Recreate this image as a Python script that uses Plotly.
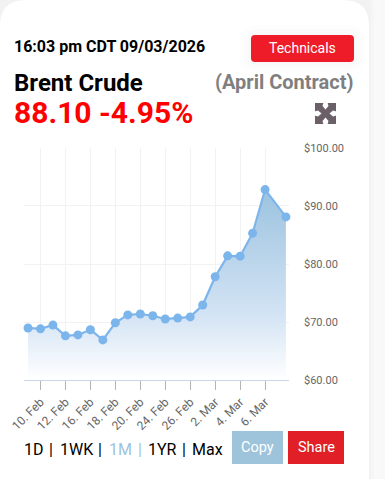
import plotly.graph_objects as go

W, H = 385, 479
PLOT_L, PLOT_R, PLOT_T, PLOT_B = 24, 289, 147.7, 380.3

dates = ["2026-02-09","2026-02-10","2026-02-11","2026-02-12","2026-02-13",
         "2026-02-16","2026-02-17","2026-02-18","2026-02-19","2026-02-20",
         "2026-02-23","2026-02-24","2026-02-25","2026-02-26","2026-02-27",
         "2026-03-02","2026-03-03","2026-03-04","2026-03-05","2026-03-06",
         "2026-03-09 16:03"]
prices = [69.0,68.85,69.5,67.65,67.8,68.7,66.95,69.9,71.25,71.4,71.1,70.55,70.7,70.9,
          72.95,77.8,81.4,81.35,85.3,92.8,88.1]
tick_dates = ["2026-02-10","2026-02-12","2026-02-16","2026-02-18","2026-02-20",
              "2026-02-24","2026-02-26","2026-03-02","2026-03-04","2026-03-06"]
tick_labels = ["10. Feb","12. Feb","16. Feb","18. Feb","20. Feb",
               "24. Feb","26. Feb","2. Mar","4. Mar","6. Mar"]
y_ticks = [60,70,80,90,100]
y_labels = ["$60.00","$70.00","$80.00","$90.00","$100.00"]
x_start, x_stop = "2026-02-08 16:19", "2026-03-09 22:00"

FONT = "Roboto"

def px(x): return x / W
def py(y): return 1 - y / H

fig = go.Figure()
fig.add_trace(go.Scatter(
    x=dates, y=prices, mode="lines+markers", fill="tozeroy",
    line=dict(color="#7cb5ec", width=2.2),
    marker=dict(color="#7cb5ec", size=9),
    fillgradient=dict(type="vertical", start=60, stop=92.8,
                      colorscale=[[0,"rgba(255,255,255,1)"],[0.35,"#d2e3f4"],[1,"#9cc3df"]]),
    hoverinfo="skip", cliponaxis=False,
))

shapes, annotations = [], []

def rrect(x0, y0, x1, y1, r):
    X = lambda v: f"{px(v):.5f}"
    Y = lambda v: f"{py(v):.5f}"
    return (f"M {X(x0+r)} {Y(y0)} L {X(x1-r)} {Y(y0)} Q {X(x1)} {Y(y0)} {X(x1)} {Y(y0+r)} "
            f"L {X(x1)} {Y(y1-r)} Q {X(x1)} {Y(y1)} {X(x1-r)} {Y(y1)} "
            f"L {X(x0+r)} {Y(y1)} Q {X(x0)} {Y(y1)} {X(x0)} {Y(y1-r)} "
            f"L {X(x0)} {Y(y0+r)} Q {X(x0)} {Y(y0)} {X(x0+r)} {Y(y0)} Z")

def box(x0, y0, x1, y1, r, color, layer="below"):
    shapes.append(dict(type="path", path=rrect(x0, y0, x1, y1, r), xref="paper", yref="paper",
                       fillcolor=color, line=dict(width=0), layer=layer))

def poly(pts, color):
    p = "M " + " L ".join(f"{px(a):.5f} {py(b):.5f}" for a, b in pts) + " Z"
    shapes.append(dict(type="path", path=p, xref="paper", yref="paper",
                       fillcolor=color, line=dict(width=0), layer="below"))

def text(x, y, s, size, color, anchor="left", weight=400):
    annotations.append(dict(x=px(x), y=py(y), xref="paper", yref="paper", text=s, showarrow=False,
                            xanchor=anchor, yanchor="middle", borderpad=0, borderwidth=0,
                            font=dict(family=FONT, size=size, color=color, weight=weight)))

# card with a soft shadow
for grow, c in [(10, "#f9f9f9"), (5, "#f6f6f6"), (2, "#f2f2f2")]:
    box(-30, -20 - grow, 369 + grow, 520, 26 + grow, c)
box(0, 0, 369, 520, 26, "#ffffff")

# buttons
for grow, c in [(10, "#fdfdfd"), (6, "#fbfbfb"), (3, "#f9f9f9")]:
    box(251 - grow, 35 - grow, 354 + grow, 62 + grow, 6 + grow, c)
box(251, 35, 354, 62, 4, "#ed1c28")
box(232, 431, 283, 464, 0, "#9ec4dc")
box(288, 431, 344, 464, 0, "#e02026")

text(14, 46.5, "16:03 pm CDT 09/03/2026", 16, "#000000", weight=700)
text(302.5, 48, "Technicals", 14, "#ffffff", "center")
text(14, 83, "Brent Crude", 24, "#000000", weight=700)
text(354, 82.5, "(April Contract)", 20, "#7f7f7f", "right", weight=700)
text(14, 112, "88.10 -4.95%", 30, "#ff0000", weight=700)
for x, s, c in [(24, "1D", "#000"), (49.5, "|", "#000"), (60, "1WK", "#000"), (98, "|", "#000"),
                (109, "1M", "#9ec4dc"), (137.5, "|", "#9ec4dc"), (148, "1YR", "#000"), (182, "|", "#000"),
                (192, "Max", "#000")]:
    text(x, 449.5, s, 16, c)
text(257.5, 447.5, "Copy", 14.5, "#ffffff", "center")
text(316, 447, "Share", 14.5, "#ffffff", "center")

# expand icon: dark square with white wedges cut from each side
ix0, iy0, ix1, iy1 = 315, 103, 336, 124
cx, cy = (ix0 + ix1) / 2, (iy0 + iy1) / 2
box(ix0, iy0, ix1, iy1, 0, "#6b6068")
poly([(cx - 2, iy0 - 0.5), (cx + 2, iy0 - 0.5), (cx + 3, iy0 + 3), (cx, iy0 + 6.5), (cx - 3, iy0 + 3)], "#ffffff")
poly([(cx - 2, iy1 + 0.5), (cx + 2, iy1 + 0.5), (cx + 3, iy1 - 3), (cx, iy1 - 6.5), (cx - 3, iy1 - 3)], "#ffffff")
poly([(ix0 - 0.5, cy - 2), (ix0 - 0.5, cy + 2), (ix0 + 3, cy + 3), (ix0 + 6.5, cy), (ix0 + 3, cy - 3)], "#ffffff")
poly([(ix1 + 0.5, cy - 2), (ix1 + 0.5, cy + 2), (ix1 - 3, cy + 3), (ix1 - 6.5, cy), (ix1 - 3, cy - 3)], "#ffffff")

fig.update_layout(
    width=W, height=H, autosize=False, margin=dict(l=0, r=0, t=0, b=0, autoexpand=False),
    paper_bgcolor="#f8f8f8", plot_bgcolor="rgba(0,0,0,0)", showlegend=False,
    font=dict(family=FONT), shapes=shapes, annotations=annotations,
    xaxis=dict(domain=[px(PLOT_L), px(PLOT_R)], type="date", range=[x_start, x_stop],
               rangebreaks=[dict(bounds=["sat", "mon"])],
               tickmode="array", tickvals=tick_dates, ticktext=tick_labels, tickangle=-45,
               tickfont=dict(size=12, color="#666666", family=FONT),
               ticks="outside", ticklen=9, tickcolor="#b5b5b5", tickwidth=1,
               showgrid=True, gridcolor="#f2f2f2", gridwidth=1,
               showline=True, linecolor="#ccd6eb", linewidth=1, zeroline=False),
    yaxis=dict(domain=[py(PLOT_B), py(PLOT_T)], range=[60, 100], side="right",
               tickmode="array", tickvals=y_ticks, ticktext=y_labels,
               tickfont=dict(size=11, color="#666666", family=FONT), ticks="",
               showgrid=True, gridcolor="#f2f2f2", gridwidth=1, zeroline=False,
               ticklabelstandoff=14),
)
fig.write_html("out.html", config={"displayModeBar": False},
               post_script="document.body.style.margin='0';document.documentElement.style.overflow='hidden';")
